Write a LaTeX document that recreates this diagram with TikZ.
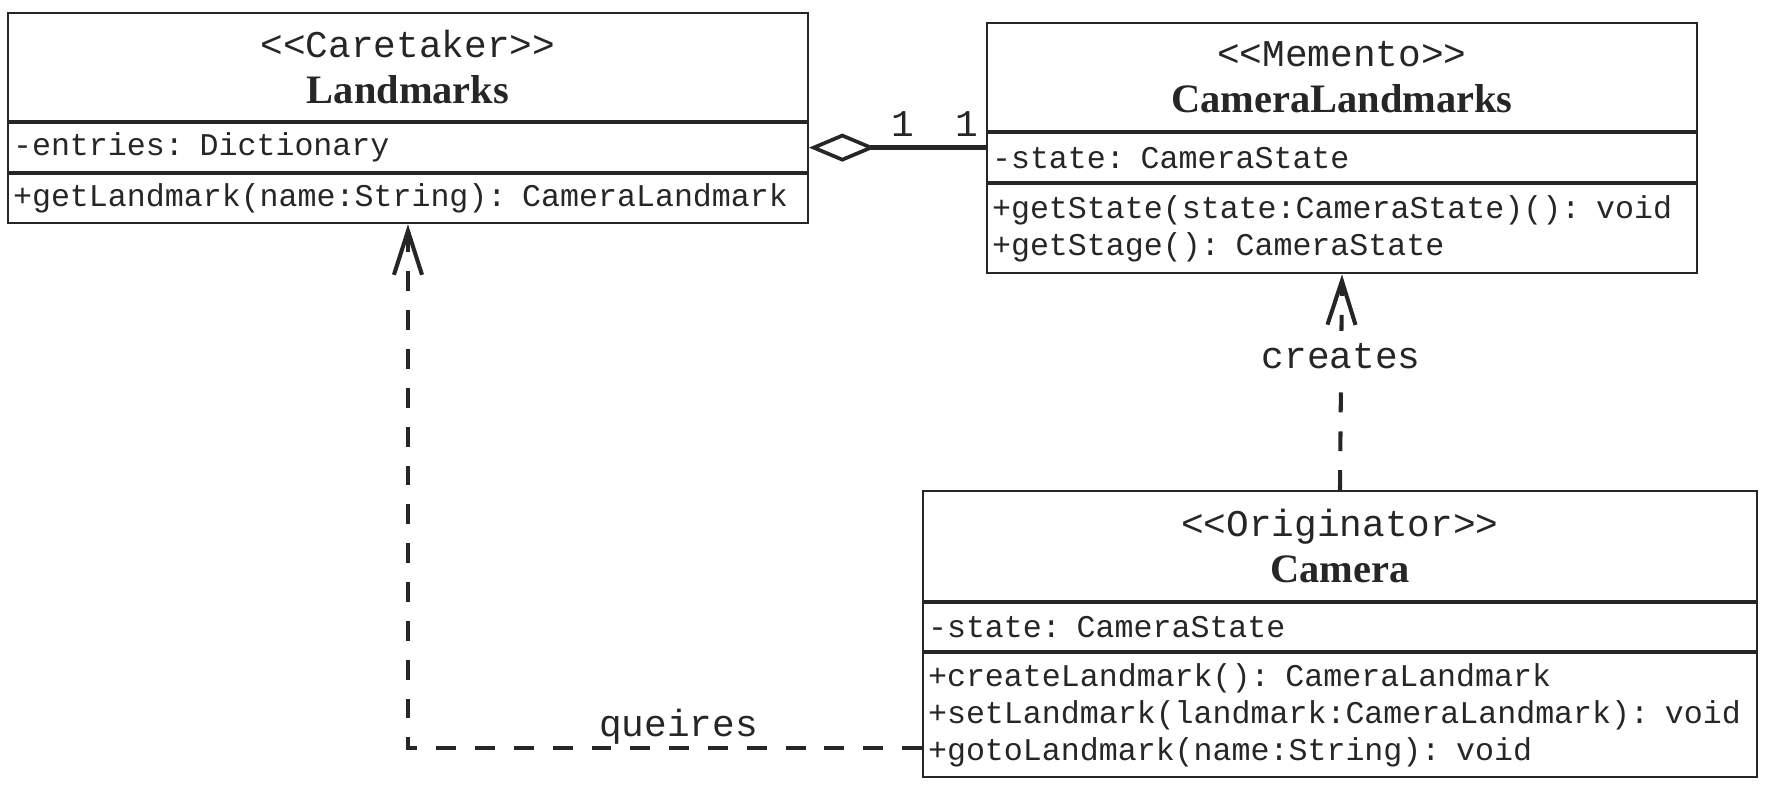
\documentclass[tikz,border=0pt]{standalone}
\usepackage{fontspec}
\setmainfont{Liberation Serif}
\setmonofont{Liberation Mono}
\usetikzlibrary{positioning,arrows.meta}

\newcommand{\umlstereo}[1]{{\ttfamily\fontsize{21.5}{26}\selectfont <<#1>>}}
\newcommand{\umlname}[1]{{\bfseries\fontsize{23}{26}\selectfont #1}}

\tikzset{
  umlbox/.style={draw=black!85, line width=1.2pt, inner xsep=0.1cm, inner ysep=0pt, text=black!85},
  head/.style={umlbox, align=center, font=\fontsize{22}{26}\selectfont},
  member/.style={umlbox, align=left, font=\ttfamily\fontsize{18}{21}\selectfont},
  aggr/.style={draw=black!85, line width=2.6pt,
    {Diamond[open, length=38pt, width=16pt, line width=2.1pt]}-},
  dep/.style={draw=black!85, line width=2.3pt, dash pattern=on 11.3pt off 10.8pt,
    -{Straight Barb[length=25pt, width=16pt]}},
  mult/.style={above=4pt, inner sep=1pt, text=black!85, font=\ttfamily\fontsize{21.5}{26}\selectfont},
  lbl/.style={inner sep=1pt, text=black!85, font=\ttfamily\fontsize{21.5}{26}\selectfont}
}

\begin{document}
\begin{tikzpicture}[x=0.02cm, y=-0.02cm]
  \useasboundingbox (0,0) rectangle (1766,786);

  % caretaker
  \node[head, text width=15.8cm, minimum height=2.16cm, anchor=north west] (lmHead) at (7,12)
    {\umlstereo{Caretaker}\\\umlname{Landmarks}};
  \node[member, text width=15.8cm, minimum height=0.98cm, below=0pt of lmHead] (lmAttr)
    {-entries: Dictionary};
  \node[member, text width=15.8cm, minimum height=0.98cm, below=0pt of lmAttr] (lmOps)
    {+getLandmark(name:String): CameraLandmark};

  % memento
  \node[head, text width=14cm, minimum height=2.16cm, anchor=north west] (cmHead) at (986,22)
    {\umlstereo{Memento}\\\umlname{CameraLandmarks}};
  \node[member, text width=14cm, minimum height=0.98cm, below=0pt of cmHead] (cmAttr)
    {-state: CameraState};
  \node[member, text width=14cm, minimum height=1.78cm, below=0pt of cmAttr] (cmOps)
    {+getState(state:CameraState)(): void\\+getStage(): CameraState};

  % originator
  \node[head, text width=16.48cm, minimum height=2.2cm, anchor=north west] (camHead) at (922,490)
    {\umlstereo{Originator}\\\umlname{Camera}};
  \node[member, text width=16.48cm, minimum height=0.96cm, below=0pt of camHead] (camAttr)
    {-state: CameraState};
  \node[member, text width=16.48cm, minimum height=2.48cm, below=0pt of camAttr] (camOps)
    {+createLandmark(): CameraLandmark\\+setLandmark(landmark:CameraLandmark): void\\+gotoLandmark(name:String): void};

  \coordinate (qEnd) at (922,748);

  \draw[aggr] (lmAttr.east) -- (lmAttr.east -| cmAttr.west)
    node[mult, pos=0.53] {1} node[mult, pos=0.89] {1};
  \draw[dep] (camHead.north) -- node[lbl, fill=white, inner ysep=7pt, pos=0.62] {creates} (cmOps.south);
  \draw[dep] (qEnd) -| node[lbl, above=0pt, pos=0.237] {queires} (lmOps.south);
\end{tikzpicture}
\end{document}
